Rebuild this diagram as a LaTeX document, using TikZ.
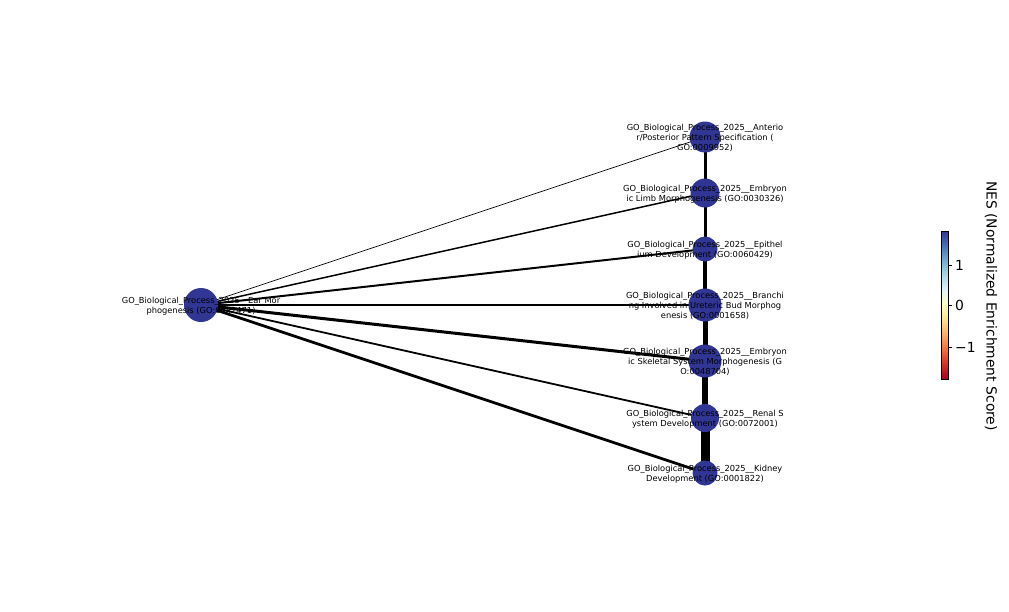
\documentclass[tikz,border=0pt]{standalone}
\usepackage{fontspec}
\setmainfont{DejaVu Sans}
\begin{document}
\begin{tikzpicture}[x=1pt,y=-1pt,
  gonode/.style={circle,fill=nodeblue,draw=none,inner sep=0pt},
  golabel/.style={align=center,font=\fontsize{8.3}{10}\selectfont,text=black,inner sep=0pt,yshift=-1pt},
  edge/.style={draw=black,line cap=butt},
  tick/.style={draw=black,line width=0.6pt},
  ticklab/.style={anchor=west,font=\fontsize{13.9}{16}\selectfont,inner sep=0pt}]
\definecolor{nodeblue}{RGB}{49,54,149}
\definecolor{c0}{HTML}{A50026}\definecolor{c1}{HTML}{D73027}\definecolor{c2}{HTML}{F46D43}
\definecolor{c3}{HTML}{FDAE61}\definecolor{c4}{HTML}{FEE090}\definecolor{c5}{HTML}{FFFFBF}
\definecolor{c6}{HTML}{E0F3F8}\definecolor{c7}{HTML}{ABD9E9}\definecolor{c8}{HTML}{74ADD1}
\definecolor{c9}{HTML}{4575B4}\definecolor{c10}{HTML}{313695}
\useasboundingbox[fill=white] (0,0) rectangle (1009,611);
% node centres
\coordinate (ear) at (201,305);
\coordinate (ant) at (705,137);
\coordinate (limb) at (705,193);
\coordinate (epi) at (705,249);
\coordinate (bra) at (705,305);
\coordinate (ske) at (705,361);
\coordinate (ren) at (705,418);
\coordinate (kid) at (705,473);
% edges
\draw[edge,line width=0.7] (ear) -- (ant);
\draw[edge,line width=1.5] (ear) -- (limb);
\draw[edge,line width=2] (ear) -- (epi);
\draw[edge,line width=1.6] (ear) -- (bra);
\draw[edge,line width=3] (ear) -- (ske);
\draw[edge,line width=1.8] (ear) -- (ren);
\draw[edge,line width=2.8] (ear) -- (kid);
\draw[edge,line width=3] (ant) -- (limb);
\draw[edge,line width=3] (limb) -- (epi);
\draw[edge,line width=3.5] (epi) -- (bra);
\draw[edge,line width=5] (bra) -- (ske);
\draw[edge,line width=5.5] (ske) -- (ren);
\draw[edge,line width=9] (ren) -- (kid);
% nodes
\node[gonode,minimum size=34] (nEar) at (ear) {};
\node[gonode,minimum size=31] (nAnt) at (ant) {};
\node[gonode,minimum size=29] (nLimb) at (limb) {};
\node[gonode,minimum size=25] (nEpi) at (epi) {};
\node[gonode,minimum size=33] (nBra) at (bra) {};
\node[gonode,minimum size=33] (nSke) at (ske) {};
\node[gonode,minimum size=28] (nRen) at (ren) {};
\node[gonode,minimum size=25] (nKid) at (kid) {};
% labels
\node[golabel] (lEar) at (ear) {GO\_Biological\_Process\_2025\_\_Ear Mor\\phogenesis (GO:0042471)};
\node[golabel] (lAnt) at (ant) {GO\_Biological\_Process\_2025\_\_Anterio\\r/Posterior Pattern Specification (\\GO:0009952)};
\node[golabel] (lLimb) at (limb) {GO\_Biological\_Process\_2025\_\_Embryon\\ic Limb Morphogenesis (GO:0030326)};
\node[golabel] (lEpi) at (epi) {GO\_Biological\_Process\_2025\_\_Epithel\\ium Development (GO:0060429)};
\node[golabel] (lBra) at (bra) {GO\_Biological\_Process\_2025\_\_Branchi\\ng Involved in Ureteric Bud Morphog\\enesis (GO:0001658)};
\node[golabel] (lSke) at (ske) {GO\_Biological\_Process\_2025\_\_Embryon\\ic Skeletal System Morphogenesis (G\\O:0048704)};
\node[golabel] (lRen) at (ren) {GO\_Biological\_Process\_2025\_\_Renal S\\ystem Development (GO:0072001)};
\node[golabel] (lKid) at (kid) {GO\_Biological\_Process\_2025\_\_Kidney\\Development (GO:0001822)};
% colorbar
\foreach \i [evaluate=\i as \j using int(\i+1)] in {0,...,9}{
  \shade[bottom color=c\i,top color=c\j] (941,{379-14.8*\i}) rectangle (948,{379-14.8*(\i+1)});
}
\draw[line width=0.6] (941,231) rectangle (948,379);
\draw[tick] (948,265) -- (951.5,265);
\draw[tick] (948,305) -- (951.5,305);
\draw[tick] (948,347) -- (951.5,347);
\node[ticklab] (t1) at (955,265) {1};
\node[ticklab] (t0) at (955,305) {0};
\node[ticklab] (tm1) at (955,347) {−1};
\node[rotate=-90,font=\fontsize{13.9}{16}\selectfont,inner sep=0pt] (cbl) at (991,306) {NES (Normalized Enrichment Score)};
\end{tikzpicture}
\end{document}
